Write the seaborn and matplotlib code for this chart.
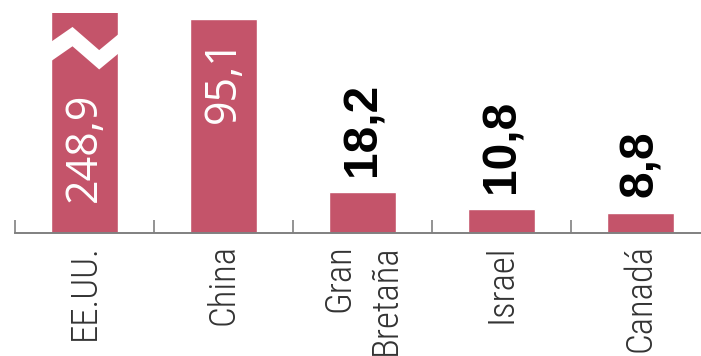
import matplotlib
matplotlib.use("Agg")
import matplotlib.pyplot as plt
import seaborn as sns
import pandas as pd
from matplotlib.patches import Polygon

# Data
countries = ["EE.UU.", "China", "Gran\nBretaña", "Israel", "Canadá"]
values = [248.9, 95.1, 18.2, 10.8, 8.8]

BAR_COLOR = "#C4546A"
AXIS_COLOR = "#808080"
TEXT_COLOR = "#333333"

sns.set_theme(style="white")
plt.rcParams["font.family"] = ["DejaVu Sans"]

df = pd.DataFrame({"country": countries, "value": values})

fig = plt.figure(figsize=(7.01, 3.56), dpi=100)
ax = fig.add_axes([15 / 701, 123 / 356, 686 / 701, 220 / 356])

sns.barplot(data=df, x="country", y="value", color=BAR_COLOR, saturation=1,
            width=0.48, errorbar=None, ax=ax)

ax.set_xlim(-0.5, 4.435)
ax.set_ylim(0, 97.8)
ax.set_xlabel("")
ax.set_ylabel("")
ax.set_yticks([])

for side in ("top", "right", "left"):
    ax.spines[side].set_visible(False)
ax.spines["bottom"].set_color(AXIS_COLOR)
ax.spines["bottom"].set_linewidth(1.4)

# Separators between categories as upward minor ticks
ax.set_xticks([i - 0.5 for i in range(len(countries))], minor=True)
ax.tick_params(axis="x", which="minor", direction="in", length=9.5,
               width=1.2, color=AXIS_COLOR, bottom=True)
ax.tick_params(axis="x", which="major", length=0, pad=8)

ax.set_xticks(range(len(countries)))
ax.set_xticklabels(countries, rotation=90, va="top", ha="center",
                   family=["Roboto Condensed", "DejaVu Sans"],
                   fontstretch="condensed", fontweight="light",
                   fontsize=26.5, color=TEXT_COLOR, linespacing=1.4)
for lbl in ax.get_xticklabels():
    lbl.set_multialignment("right")

# Value labels: inside the two tall bars, above the short ones
bars = ax.patches
for i, (bar, v) in enumerate(zip(bars, values)):
    txt = f"{v:.1f}".replace(".", ",")
    cx = bar.get_x() + bar.get_width() / 2
    if i == 0:
        ax.annotate(txt, (cx, 0), xytext=(0, 22), textcoords="offset points",
                    rotation=90, ha="center", va="bottom", color="white",
                    fontsize=31, family=["Open Sans", "DejaVu Sans"])
    elif i == 1:
        ax.annotate(txt, (cx, v), xytext=(0, -14), textcoords="offset points",
                    rotation=90, ha="center", va="top", color="white",
                    fontsize=31, family=["Open Sans", "DejaVu Sans"])
    else:
        ax.annotate(txt, (cx, v), xytext=(0, 11.5), textcoords="offset points",
                    rotation=90, ha="center", va="bottom", color="black",
                    fontsize=34.5, fontweight="bold",
                    family=["Liberation Sans", "DejaVu Sans"])

# Zigzag break on the truncated first bar
b0 = bars[0]
x0, w = b0.get_x(), b0.get_width()
fx = [-0.03, 0.32, 0.72, 1.03]
top = [84.4, 91.6, 81.3, 88.9]
thick = 8.6
pts = [(x0 + f * w, t) for f, t in zip(fx, top)]
pts += [(x0 + f * w, t - thick) for f, t in reversed(list(zip(fx, top)))]
ax.add_patch(Polygon(pts, closed=True, facecolor="white", edgecolor="none",
                     zorder=3))

fig.savefig("out.png", dpi=100)
